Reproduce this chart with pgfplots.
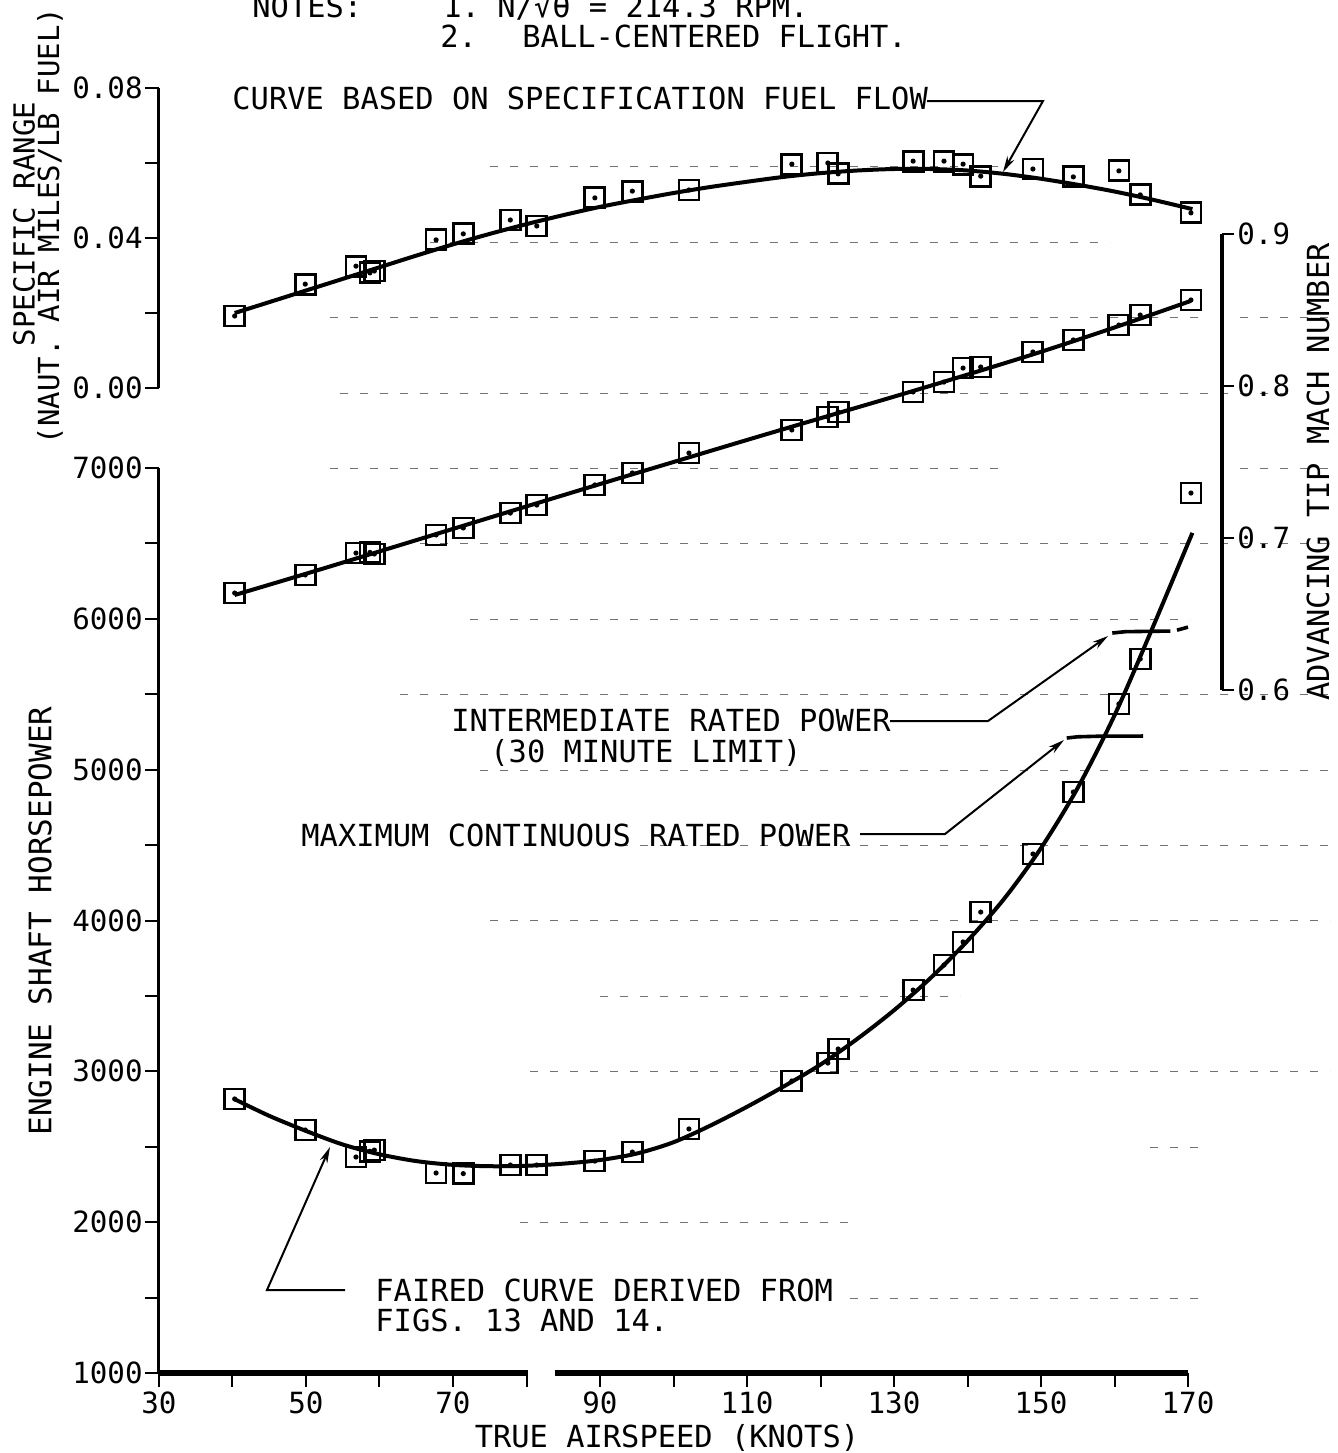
\documentclass[border=0pt]{standalone}
\usepackage{pgfplots}
\usepackage{pgfplotstable}
\pgfplotsset{compat=1.18}
\usepackage{fontspec}
\setmainfont{DejaVu Sans Mono}
\usetikzlibrary{arrows.meta}
\newcommand\mainsz{\fontsize{15.2pt}{18pt}\selectfont}
\newcommand\ticksz{\fontsize{14.6pt}{17pt}\selectfont}

\pgfdeclareplotmark{sqdot}{%
  \pgfpathrectangle{\pgfpoint{-\pgfplotmarksize}{-\pgfplotmarksize}}{\pgfpoint{2\pgfplotmarksize}{2\pgfplotmarksize}}%
  \pgfusepathqstroke
  \pgfpathcircle{\pgfpointorigin}{1.3pt}%
  \pgfusepathqfill
}

% flight test points: airspeed, shaft horsepower, advancing tip Mach, specific range
\pgfplotstableread{
V SHP MACH SR
40.3 2817 0.6638 0.0192
49.9 2611 0.6757 0.0277
56.8 2432 0.6901 0.0325
58.7 2470 0.6905 0.0307
59.3 2478 0.6895 0.0312
67.7 2326 0.7020 0.0395
71.4 2322 0.7066 0.0411
77.8 2379 0.7164 0.0448
81.4 2379 0.7217 0.0432
89.3 2405 0.7349 0.0507
94.4 2465 0.7428 0.0525
102.1 2618 0.7559 0.0528
116.1 2936 0.7711 0.0597
121.0 3055 0.7796 0.0600
122.4 3148 0.7829 0.0571
132.6 3539 0.7961 0.0605
136.8 3705 0.8026 0.0605
139.4 3858 0.8118 0.0597
141.8 4056 0.8125 0.0565
148.9 4441 0.8224 0.0584
154.4 4852 0.8303 0.0563
160.6 5436 0.8401 0.0579
163.5 5734 0.8467 0.0515
170.4 6834 0.8566 0.0467
}\flight

\pgfplotstableread{
V SHP
40.3 2815
45 2705
50 2605
55 2515
60 2450
65 2405
70 2380
75 2371
80 2374
85 2388
90 2412
95 2455
100 2530
105 2640
110 2765
115 2900
120 3045
125 3215
130 3405
135 3620
140 3865
145 4145
150 4480
155 4880
160 5360
165 5920
170.6 6570
}\shpcurve

\pgfplotstableread{
V SR
40.3 0.0200
45 0.0229
50 0.0260
55 0.0291
60 0.0322
65 0.0353
70 0.0383
75 0.0411
80 0.0437
85 0.0461
90 0.0483
95 0.0502
100 0.0520
105 0.0536
110 0.0550
115 0.0563
120 0.0573
125 0.0580
130 0.0584
135 0.0584
140 0.0580
145 0.0571
150 0.0558
155 0.0542
160 0.0524
165 0.0503
170.6 0.0477
}\srcurve

\pgfplotstableread{
V MACH
40.3 0.6625
50 0.6765
60 0.6912
70 0.7060
80 0.7208
90 0.7355
100 0.7500
110 0.7645
120 0.7788
130 0.7930
140 0.8075
150 0.8225
160 0.8385
170.4 0.8560
}\machcurve

\pgfplotsset{
  base/.style={scale only axis, clip=false, xmin=30, anchor=south west,
    tick align=outside, tick style={line width=1pt,black},
    major tick length=7pt, minor tick length=7pt,
    ticklabel style={font=\ticksz}, scaled ticks=false,
    axis line style={line width=1.5pt}},
  curve/.style={line width=2pt, black, smooth, no marks},
  pts/.style={only marks, mark=sqdot, mark size=5pt, mark options={line width=1.4pt, black}},
}

\begin{document}
\begin{tikzpicture}
\path[use as bounding box] (0pt,0pt) rectangle (669pt,-726.5pt);

% faint dashed horizontal rulings
\begin{scope}[x=0.5pt,y=-0.5pt]
\foreach \yy/\aa/\bb in {166/490/1000, 242/430/1110, 317/330/1200, 317/1240/1330,
  393/340/1290, 468/330/1000, 468/1240/1330, 543/420/1330, 619/470/1190,
  694/400/1330, 770/480/1330, 845/600/1330, 920/490/1330, 996/600/960,
  1071/530/1330, 1147/1150/1200, 1222/520/850, 1298/850/1200}
  \draw[black!55, line width=0.5pt, dash pattern=on 4pt off 6pt] (\aa,\yy) -- (\bb,\yy);
\end{scope}

% ---- engine shaft horsepower ----
\begin{axis}[base, at={(79.5pt,-686.5pt)}, width=514.5pt, height=452.5pt,
  xmax=170, ymin=1000, ymax=7000,
  axis x line*=bottom, axis y line*=left, x axis line style={draw=none},
  xtick={30,50,...,170}, xticklabels={30,50,70,90,110,130,150,170},
  minor xtick={40,60,...,160},
  ytick={1000,2000,...,7000}, yticklabels={1000,2000,3000,4000,5000,6000,7000},
  minor ytick={1500,2500,...,6500},
  yticklabel style={inner sep=1pt}, xticklabel style={inner sep=2pt}]
  \draw[line width=3pt] (axis cs:30,1000) -- (axis cs:80.2,1000);
  \draw[line width=3pt] (axis cs:83.9,1000) -- (axis cs:170,1000);
  \addplot[curve] table[x=V,y=SHP] {\shpcurve};
  \addplot[pts] table[x=V,y=SHP] {\flight};
  % maximum continuous rated power
  \addplot[line width=1.8pt, black, no marks] coordinates {(153.5,5210) (155,5218) (158,5222) (163.9,5223)};
  % intermediate rated power
  \addplot[line width=1.8pt, black, no marks] coordinates {(159.7,5906) (161.5,5915) (167.6,5919)};
  \addplot[line width=1.8pt, black, no marks] coordinates {(168.5,5925) (170.0,5945)};
\end{axis}

% ---- specific range ----
\begin{axis}[base, at={(79.5pt,-194pt)}, width=514.5pt, height=150pt,
  xmax=170, ymin=0, ymax=0.08,
  axis x line=none, axis y line*=left,
  ytick={0,0.04,0.08}, yticklabels={0.00,0.04,0.08}, minor ytick={0.02,0.06},
  yticklabel style={inner sep=1pt}]
  \addplot[curve] table[x=V,y=SR] {\srcurve};
  \addplot[pts] table[x=V,y=SR] {\flight};
\end{axis}

% ---- advancing tip Mach number ----
\begin{axis}[base, at={(79.5pt,-345pt)}, width=531.5pt, height=228pt,
  xmax=174.63, ymin=0.6, ymax=0.9,
  axis x line=none, axis y line*=right, y axis line style={line width=2pt},
  ytick={0.6,0.7,0.8,0.9}, yticklabels={0.6,0.7,0.8,0.9},
  major tick length=6pt,
  yticklabel style={inner sep=1.5pt}]
  \addplot[curve] table[x=V,y=MACH] {\machcurve};
  \addplot[pts] table[x=V,y=MACH] {\flight};
\end{axis}

% ---- text and leaders ----
\begin{scope}[x=0.5pt,y=-0.5pt, every node/.style={inner sep=0pt, font=\mainsz},
  leader/.style={line width=1pt, -{Stealth[length=8pt,width=4pt]}}]
  \node[anchor=base west] at (252,17) {NOTES:};
  \node[anchor=base west] at (443,17) {1.};
  \node[anchor=base west] at (497,17) {N/√θ = 214.3 RPM.};
  \node[anchor=base west] at (440,47) {2.};
  \node[anchor=base west] at (522,47) {BALL-CENTERED FLIGHT.};
  \node[anchor=base west] at (232,109) {CURVE BASED ON SPECIFICATION FUEL FLOW};
  \draw[leader] (927,101) -- (1043,101) -- (1003,172);
  \node[anchor=base west] at (451,731) {INTERMEDIATE RATED POWER};
  \node[anchor=base west] at (490,762) {(30 MINUTE LIMIT)};
  \draw[leader] (890,721) -- (988,721) -- (1108,636);
  \node[anchor=base west] at (301,846) {MAXIMUM CONTINUOUS RATED POWER};
  \draw[leader] (860,834) -- (945,834) -- (1064,740);
  \node[anchor=base west] at (375,1301) {FAIRED CURVE DERIVED FROM};
  \node[anchor=base west] at (375,1331) {FIGS. 13 AND 14.};
  \draw[leader] (345,1290) -- (267,1290) -- (330,1147);
  \node at (667,1438) {TRUE AIRSPEED (KNOTS)};
  \node[rotate=90, font=\fontsize{15.5pt}{18pt}\selectfont] at (40,921) {ENGINE SHAFT HORSEPOWER};
  \node[rotate=90, font=\fontsize{14.5pt}{17pt}\selectfont] at (24,224) {SPECIFIC RANGE};
  \node[rotate=90, font=\fontsize{14.5pt}{17pt}\selectfont] at (50,226) {(NAUT. AIR MILES/LB FUEL)};
  \node[rotate=90] at (1318,472) {ADVANCING TIP MACH NUMBER};
\end{scope}
\end{tikzpicture}
\end{document}
